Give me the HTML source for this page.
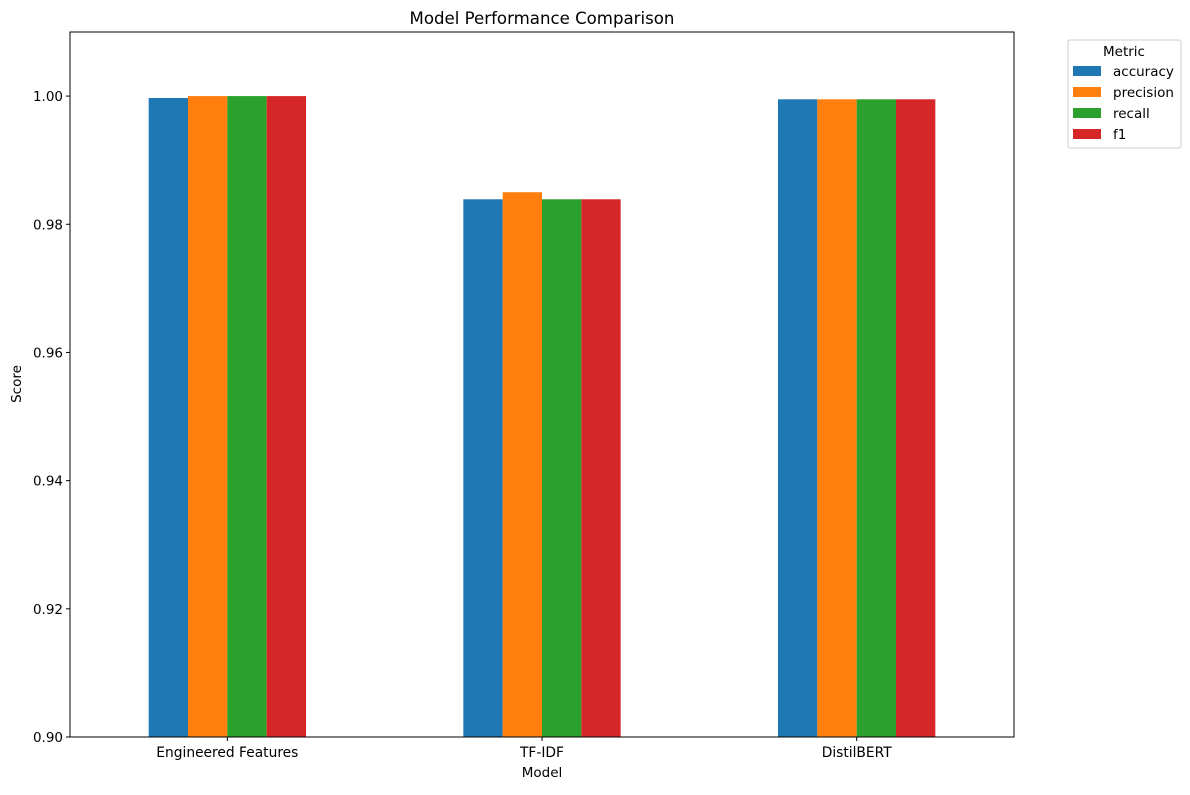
<!DOCTYPE html>
<html><head><meta charset="utf-8"><style>
body{margin:0;background:#fff;font-family:"Liberation Sans","DejaVu Sans",sans-serif;}
svg text{font-family:"DejaVu Sans","Liberation Sans",sans-serif;fill:#000;}
</style></head><body>
<svg id="chart" width="1190" height="790" xmlns="http://www.w3.org/2000/svg">
<text x="542" y="24" font-size="16.6" text-anchor="middle">Model Performance Comparison</text>
<g id="bars"></g>
<rect x="70" y="32" width="944" height="705" fill="none" stroke="#000" stroke-width="1"/>
<g id="axes"></g>
<text x="542" y="777" font-size="13.5" text-anchor="middle">Model</text>
<text transform="translate(21,384) rotate(-90)" font-size="13.5" text-anchor="middle">Score</text>
<g id="legend">
<rect x="1068" y="40" width="113" height="108" fill="#fff" stroke="#ccc" rx="2"/>
<text x="1124" y="56" font-size="13.5" text-anchor="middle">Metric</text>
</g>
</svg>
<script>
const categories=["Engineered Features","TF-IDF","DistilBERT"];
const metrics=["accuracy","precision","recall","f1"];
const colors=["#1f77b4","#ff7f0e","#2ca02c","#d62728"];
const accuracy=[0.9997,0.9839,0.9995];
const precision=[1.0,0.9850,0.9995];
const recall=[1.0,0.9839,0.9995];
const f1=[1.0,0.9839,0.9995];
const yTicks=[0.90,0.92,0.94,0.96,0.98,1.00];
const series=[accuracy,precision,recall,f1];
const NS="http://www.w3.org/2000/svg";
const L=70,R=1014,T=32,B=737,yMin=0.90,yMax=1.01;
const y=v=>B-(v-yMin)/(yMax-yMin)*(B-T);
const x=v=>L+(v+0.5)/3*(R-L);
const bw=0.125;
const bars=document.getElementById('bars'),axes=document.getElementById('axes');
function mk(t,a){const e=document.createElementNS(NS,t);for(const k in a)e.setAttribute(k,a[k]);return e;}
series.forEach((s,j)=>{s.forEach((v,i)=>{
 const x0=x(i-0.25+j*bw),x1=x(i-0.25+(j+1)*bw);
 const r=mk('rect',{x:x0,y:y(v),width:x1-x0,height:B-y(v),fill:colors[j]});
 
 
 bars.appendChild(r);});});
yTicks.forEach(t=>{
 const yy=y(t);
 const l=mk('line',{x1:L-4,x2:L,y1:yy,y2:yy,stroke:'#000'});
 axes.appendChild(l);
 const tx=mk('text',{x:L-7,y:yy+5,'font-size':13.5,'text-anchor':'end'});tx.textContent=t.toFixed(2);
 axes.appendChild(tx);});
categories.forEach((c,i)=>{
 const xx=x(i);
 const l=mk('line',{x1:xx,x2:xx,y1:B,y2:B+4,stroke:'#000'});
 axes.appendChild(l);
 const tx=mk('text',{x:xx,y:B+20,'font-size':13.8,'text-anchor':'middle'});tx.textContent=c;
 axes.appendChild(tx);});
const lg=document.getElementById('legend');
metrics.forEach((m,j)=>{
 const yy=66+j*21;
 const r=mk('rect',{x:1073,y:yy,width:28,height:10,fill:colors[j]});
 lg.appendChild(r);
 const t=mk('text',{x:1113,y:yy+10,'font-size':13.5});t.textContent=m;
 lg.appendChild(t);});
</script>
</body></html>
